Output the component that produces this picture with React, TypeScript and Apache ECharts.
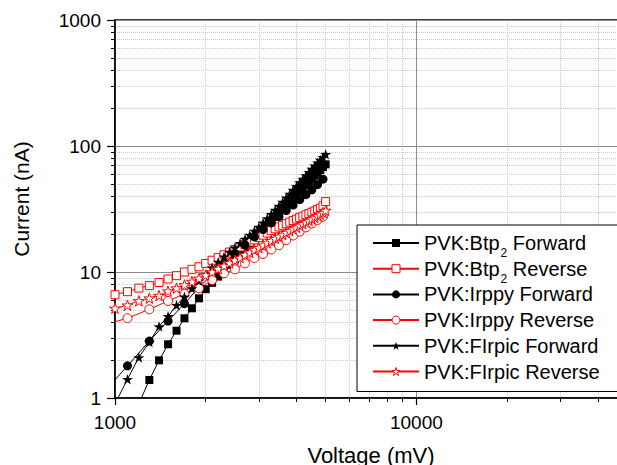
import React, { useEffect, useRef } from "react";
import * as echarts from "echarts";

// ---- data ----
const voltageStep100 = [
  1000, 1100, 1200, 1300, 1400, 1500, 1600, 1700, 1800, 1900,
  2000, 2100, 2200, 2300, 2400, 2500, 2600, 2700, 2800, 2900,
  3000, 3100, 3200, 3300, 3400, 3500, 3600, 3700, 3800, 3900,
  4000, 4100, 4200, 4300, 4400, 4500, 4600, 4700, 4800, 4900,
  5000,
];
const voltageStep200 = [
  900, 1100, 1300, 1500, 1700, 1900, 2100, 2300, 2500, 2700, 2900,
  3100, 3300, 3500, 3700, 3900, 4100, 4300, 4500, 4700, 4900,
];

const btp2Forward = [
  0.4, 0.6, 0.9, 1.39, 1.99, 2.67, 3.42, 4.29, 5.15, 6.18,
  7.3, 8.2, 9.2, 10.3, 11.4, 12.6, 13.9, 15.3, 16.8, 18.3,
  19.9, 21.6, 23.4, 25.3, 27.3, 29.3, 31.5, 33.7, 36.0, 38.5,
  41.0, 43.6, 46.3, 49.1, 52.0, 55.0, 58.1, 61.3, 64.6, 68.0,
  71.5,
];
const btp2Reverse = [
  6.6, 6.98, 7.45, 7.8, 8.25, 8.8, 9.35, 10.0, 10.5, 11.0,
  11.7, 12.4, 13.0, 13.7, 14.4, 15.1, 15.8, 16.5, 17.3, 18.0,
  18.8, 19.6, 20.4, 21.3, 22.0, 22.8, 23.5, 24.2, 24.9, 25.6,
  26.3, 27.0, 27.7, 28.4, 29.1, 29.8, 30.5, 31.3, 32.1, 33.5,
  36.2,
];
const irppyForward = [
  1.05, 1.8, 2.83, 4.08, 5.61, 7.55, 9.6, 11.7, 14.0, 16.4, 19.0,
  21.7, 24.5, 27.5, 30.7, 34.0, 37.5, 41.1, 44.9, 49.5, 54.5,
];
const irppyReverse = [
  3.75, 4.3, 5.06, 5.89, 6.7, 7.43, 8.64, 9.77, 10.5, 11.7, 12.9,
  13.9, 15.1, 16.3, 17.9, 19.5, 20.9, 22.6, 24.3, 25.9, 27.5,
];
const firpicForward = [
  0.9, 1.41, 2.1, 2.78, 3.7, 4.45, 5.45, 6.35, 7.4, 8.5,
  9.6, 10.8, 12.0, 13.2, 14.4, 15.6, 16.9, 18.3, 19.7, 21.2,
  22.8, 24.6, 26.6, 28.7, 31.0, 33.4, 36.0, 38.8, 41.7, 44.8,
  48.0, 51.3, 54.8, 58.4, 62.0, 65.8, 69.6, 73.5, 77.5, 81.5,
  86.0,
];
const firpicReverse = [
  5.15, 5.45, 5.9, 6.2, 6.5, 7.05, 7.45, 7.9, 8.4, 8.9,
  9.45, 10.0, 10.6, 11.2, 11.8, 12.4, 13.0, 13.7, 14.3, 15.0,
  15.6, 16.3, 17.0, 17.7, 18.4, 19.1, 19.8, 20.5, 21.2, 21.9,
  22.6, 23.4, 24.1, 24.8, 25.6, 26.3, 27.1, 27.9, 28.7, 29.6,
  30.8,
];

const seriesNames = [
  "PVK:Btp2 Forward",
  "PVK:Btp2 Reverse",
  "PVK:Irppy Forward",
  "PVK:Irppy Reverse",
  "PVK:FIrpic Forward",
  "PVK:FIrpic Reverse",
];

const xMinorValues = [
  2000, 3000, 4000, 5000, 6000, 7000, 8000, 9000, 20000, 30000, 40000,
];
const yMinorValues = [
  2, 3, 4, 5, 6, 7, 8, 9, 20, 30, 40, 50, 60, 70, 80, 90,
  200, 300, 400, 500, 600, 700, 800, 900,
];

const FONT = "'Liberation Sans', Arial, sans-serif";
const STAR =
  "path://M0,-10L2.245,-3.09L9.511,-3.09L3.633,1.18L5.878,8.09L0,3.82L-5.878,8.09L-3.633,1.18L-9.511,-3.09L-2.245,-3.09Z";

const BLACK = "#000000";
const RED = "#ff0000";

function styleFor(color: string, hollow: boolean) {
  return hollow
    ? { color: "#ffffff", borderColor: color, borderWidth: 1 }
    : { color, borderColor: color, borderWidth: 0 };
}

function makeSeries(
  name: string,
  xs: number[],
  ys: number[],
  symbol: string,
  size: number,
  color: string,
  hollow: boolean
) {
  return {
    name,
    type: "line",
    data: xs.map((x, i) => [x, ys[i]]),
    symbol,
    symbolSize: size,
    symbolKeepAspect: true,
    showAllSymbol: true,
    clip: true,
    lineStyle: { color, width: 1 },
    itemStyle: styleFor(color, hollow),
    emphasis: { disabled: true },
  };
}

export default function App() {
  const ref = useRef<HTMLDivElement>(null);

  useEffect(() => {
    if (!ref.current) return;
    const chart = echarts.init(ref.current, null, { renderer: "svg" });
    const axisLabelStyle = { fontFamily: FONT, fontSize: 19, color: "#000" };
    const legendColors = [
      [BLACK, false],
      [RED, true],
      [BLACK, false],
      [RED, true],
      [BLACK, false],
      [RED, true],
    ] as [string, boolean][];

    chart.setOption({
      animation: false,
      backgroundColor: "#ffffff",
      textStyle: { fontFamily: FONT },
      grid: {
        left: 115,
        top: 20,
        right: -10,
        bottom: 67,
        show: true,
        borderColor: "#000",
        borderWidth: 1.5,
        backgroundColor: "transparent",
        outerBoundsMode: "none",
        containLabel: false,
      },
      xAxis: [
        {
          type: "log",
          logBase: 10,
          min: 1000,
          max: 50000,
          position: "bottom",
          name: "Voltage (mV)",
          nameLocation: "middle",
          nameGap: 46,
          nameTextStyle: { fontFamily: FONT, fontSize: 22, color: "#000" },
          axisLine: { show: true, lineStyle: { color: "#000", width: 1.5 } },
          axisTick: { show: true, length: 7, lineStyle: { color: "#000", width: 1.2 } },
          axisLabel: {
            ...axisLabelStyle,
            margin: 15,
            showMaxLabel: false,
            formatter: (v: number) => String(Math.round(v)),
          },
          splitLine: { show: true, lineStyle: { color: "#8c8c8c", width: 1 } },
          z: 3,
        },
        {
          type: "log",
          logBase: 10,
          min: 1000,
          max: 50000,
          position: "bottom",
          axisLine: { show: false },
          axisTick: {
            show: true,
            length: 4,
            customValues: xMinorValues,
            lineStyle: { color: "#000", width: 1 },
          },
          axisLabel: { show: false },
          splitLine: {
            show: true,
            lineStyle: { color: "#c8c8c8", width: 1, type: "dotted" },
          },
          z: 1,
        },
      ],
      yAxis: [
        {
          type: "log",
          logBase: 10,
          min: 1,
          max: 1000,
          position: "left",
          name: "Current (nA)",
          nameLocation: "middle",
          nameGap: 83,
          nameTextStyle: {
            fontFamily: FONT,
            fontSize: 21,
            color: "#000",
            padding: [0, 0, 0, 20],
          },
          axisLine: { show: true, lineStyle: { color: "#000", width: 1.5 } },
          axisTick: { show: true, length: 8, lineStyle: { color: "#000", width: 1.2 } },
          axisLabel: {
            ...axisLabelStyle,
            margin: 14,
            formatter: (v: number) => String(Math.round(v)),
          },
          splitLine: { show: true, lineStyle: { color: "#8c8c8c", width: 1 } },
          z: 3,
        },
        {
          type: "log",
          logBase: 10,
          min: 1,
          max: 1000,
          position: "left",
          axisLine: { show: false },
          axisTick: {
            show: true,
            length: 4,
            customValues: yMinorValues,
            lineStyle: { color: "#000", width: 1 },
          },
          axisLabel: { show: false },
          splitLine: {
            show: true,
            lineStyle: { color: "#c8c8c8", width: 1, type: "dotted" },
          },
          z: 1,
        },
      ],
      legend: {
        orient: "vertical",
        left: 357,
        top: 225,
        padding: [2, 80, 4, 15],
        itemWidth: 46,
        itemHeight: 10,
        itemGap: -6.3,
        selectedMode: false,
        backgroundColor: "#ffffff",
        borderColor: "#000",
        borderWidth: 1,
        borderRadius: 0,
        data: seriesNames.map((name, i) => ({
          name,
          itemStyle: styleFor(legendColors[i][0], legendColors[i][1]),
        })),
        formatter: (n: string) => n.replace("Btp2", "Btp{sub|2}"),
        textStyle: {
          fontFamily: FONT,
          fontSize: 20,
          lineHeight: 32,
          color: "#000",
          rich: {
            sub: {
              fontFamily: FONT,
              fontSize: 12,
              lineHeight: 32,
              padding: [20, 0, 0, 1],
              color: "#000",
            },
          },
        },
      },
      series: [
        makeSeries(seriesNames[0], voltageStep100, btp2Forward, "rect", 8, BLACK, false),
        makeSeries(seriesNames[1], voltageStep100, btp2Reverse, "rect", 8, RED, true),
        makeSeries(seriesNames[2], voltageStep200, irppyForward, "circle", 9, BLACK, false),
        makeSeries(seriesNames[3], voltageStep200, irppyReverse, "circle", 9, RED, true),
        makeSeries(seriesNames[4], voltageStep100, firpicForward, STAR, 11, BLACK, false),
        makeSeries(seriesNames[5], voltageStep100, firpicReverse, STAR, 11, RED, true),
      ],
    });

    return () => chart.dispose();
  }, []);

  return (
    <div
      ref={ref}
      style={{ position: "fixed", left: 0, top: 0, width: 617, height: 465, background: "#fff" }}
    />
  );
}
